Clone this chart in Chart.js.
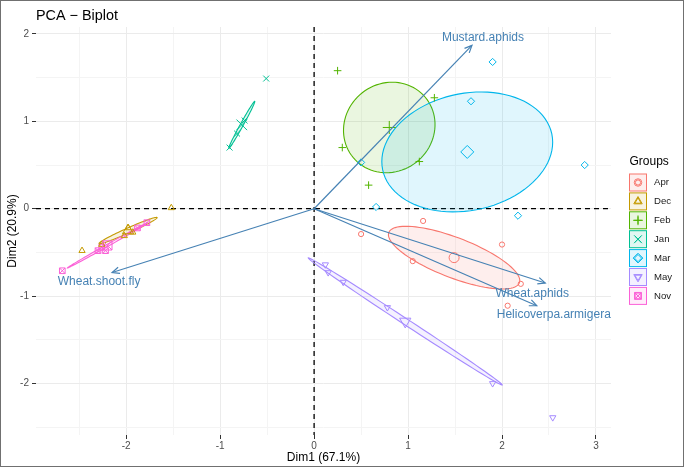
<!DOCTYPE html>
<html>
<head>
<meta charset="utf-8">
<script src="https://cdn.jsdelivr.net/npm/chart.js@4.4.1/dist/chart.umd.min.js"></script>
<style>
  html, body { margin: 0; padding: 0; background: #fff; }
  canvas { display: block; }
</style>
</head>
<body>
<canvas id="biplot" width="685" height="468"></canvas>
<script>
// groups and colours (ggplot hue palette)
const groups = ['Apr', 'Dec', 'Feb', 'Jan', 'Mar', 'May', 'Nov'];
const groupColors = ['#F8766D', '#C49A00', '#53B400', '#00C094', '#00B6EB', '#A58AFF', '#FB61D7'];

// individuals
const aprX = [0.50, 1.16, 2.00, 1.05, 2.20, 2.06];
const aprY = [-0.29, -0.14, -0.41, -0.60, -0.86, -1.11];
const decX = [-1.52, -2.47, -1.98, -2.02, -1.93, -2.26];
const decY = [0.01, -0.48, -0.22, -0.31, -0.27, -0.41];
const febX = [0.25, 1.28, 0.30, 0.58, 1.12];
const febY = [1.58, 1.27, 0.70, 0.27, 0.54];
const janX = [-0.51, -0.90, -0.82, -0.74];
const janY = [1.49, 0.70, 0.86, 1.01];
const marX = [1.90, 1.67, 2.88, 2.17, 0.66, 0.50];
const marY = [1.68, 1.23, 0.50, -0.08, 0.02, 0.53];
const mayX = [0.12, 0.15, 0.31, 0.78, 1.90, 2.54];
const mayY = [-0.64, -0.73, -0.84, -1.13, -2.00, -2.39];
const novX = [-2.68, -1.78, -2.26, -2.22, -2.30, -1.88];
const novY = [-0.71, -0.16, -0.44, -0.48, -0.48, -0.22];

// group means (big markers) and ellipse half-axes (conjugate vectors, data units)
const centerX = [1.49, -1.98, 0.80, -0.77, 1.63, 0.97, -2.20];
const centerY = [-0.56, -0.25, 0.93, 0.96, 0.65, -1.29, -0.42];
const ellipseU = [[0.695, -0.288], [0.309, 0.149], [0.383, 0.346], [0.138, 0.269], [0.900, 0.206], [1.032, -0.727], [0.426, 0.258]];
const ellipseV = [[-0.076, -0.214], [0.011, -0.026], [0.301, -0.386], [0.014, -0.008], [0.129, -0.655], [-0.018, -0.029], [0.006, -0.010]];

// variables (arrows)
const varNames = ['Mustard.aphids', 'Wheat.shoot.fly', 'Wheat.aphids', 'Helicoverpa.armigera'];
const varX = [1.68, -2.15, 2.46, 2.37];
const varY = [1.87, -0.73, -0.85, -1.11];

// axes
const xTicks = [-2.5, -2, -1.5, -1, -0.5, 0, 0.5, 1, 1.5, 2, 2.5, 3];
const yTicks = [-2.5, -2, -1.5, -1, -0.5, 0, 0.5, 1, 1.5, 2];
const xRange = [-2.96, 3.16];
const yRange = [-2.59, 2.08];

const FONT = '"Liberation Sans", Arial, Helvetica, sans-serif';
const arrowColor = '#4682B4';
const labelOffsets = [[11, -8], [-13, 9], [-13, 11], [17, 9]];

const groupXs = [aprX, decX, febX, janX, marX, mayX, novX];
const groupYs = [aprY, decY, febY, janY, marY, mayY, novY];
const shapes = [
    { style: 'circle', rot: 0, r: 2.6, big: 5 },
    { style: 'triangle', rot: 0, r: 3.6, big: 6.5 },
    { style: 'cross', rot: 0, r: 3.8, big: 6.5 },
    { style: 'crossRot', rot: 0, r: 4.2, big: 7.5 },
    { style: 'rectRot', rot: 0, r: 3.6, big: 6.5 },
    { style: 'triangle', rot: 180, r: 3.6, big: 6.5 },
    { style: 'rect', rot: 0, r: 4, big: 6.5 }
];

function alpha(hex, a) {
    const n = parseInt(hex.slice(1), 16);
    return `rgba(${(n >> 16) & 255}, ${(n >> 8) & 255}, ${n & 255}, ${a})`;
}

function pts(xs, ys) {
    return xs.map((x, i) => ({ x: x, y: ys[i] }));
}

function pointSet(data, style, rot, r, color) {
    return {
        data: data,
        showLine: false,
        pointStyle: style,
        rotation: rot,
        pointRadius: r,
        pointBorderWidth: 1,
        borderColor: color,
        backgroundColor: 'rgba(0,0,0,0)',
        pointBorderColor: color,
        pointBackgroundColor: 'rgba(0,0,0,0)'
    };
}

const datasets = [];
// arrows first so they are drawn on top
varNames.forEach((name, i) => {
    datasets.push({
        data: [{ x: 0, y: 0 }, { x: varX[i], y: varY[i] }],
        showLine: true,
        borderColor: arrowColor,
        borderWidth: 1.2,
        pointRadius: 0,
        fill: false
    });
});
// group means
groups.forEach((g, i) => {
    const s = shapes[i];
    const d = [{ x: centerX[i], y: centerY[i] }];
    datasets.push(pointSet(d, s.style, s.rot, s.big, groupColors[i]));
    if (g === 'Nov') datasets.push(pointSet(d, 'crossRot', 0, s.big, groupColors[i]));
});
// individuals
groups.forEach((g, i) => {
    const s = shapes[i];
    const d = pts(groupXs[i], groupYs[i]);
    datasets.push(pointSet(d, s.style, s.rot, s.r, groupColors[i]));
    if (g === 'Nov') datasets.push(pointSet(d, 'crossRot', 0, s.r, groupColors[i]));
});

const backdrop = {
    id: 'backdrop',
    beforeDatasetsDraw(chart) {
        const { ctx, chartArea, scales: { x, y } } = chart;
        ctx.save();
        // dashed reference lines through the origin
        ctx.setLineDash([5, 4]);
        ctx.strokeStyle = '#000';
        ctx.lineWidth = 1.3;
        const x0 = x.getPixelForValue(0), y0 = y.getPixelForValue(0);
        ctx.beginPath();
        ctx.moveTo(x0, chartArea.top);
        ctx.lineTo(x0, chartArea.bottom);
        ctx.moveTo(chartArea.left, y0);
        ctx.lineTo(chartArea.right, y0);
        ctx.stroke();
        ctx.setLineDash([]);
        // concentration ellipses
        groups.forEach((g, i) => {
            ctx.beginPath();
            for (let k = 0; k <= 90; k++) {
                const t = k / 90 * Math.PI * 2;
                const dx = centerX[i] + ellipseU[i][0] * Math.cos(t) + ellipseV[i][0] * Math.sin(t);
                const dy = centerY[i] + ellipseU[i][1] * Math.cos(t) + ellipseV[i][1] * Math.sin(t);
                const px = x.getPixelForValue(dx), py = y.getPixelForValue(dy);
                if (k === 0) ctx.moveTo(px, py); else ctx.lineTo(px, py);
            }
            ctx.closePath();
            ctx.fillStyle = alpha(groupColors[i], 0.12);
            ctx.fill();
            ctx.strokeStyle = groupColors[i];
            ctx.lineWidth = 1.1;
            ctx.stroke();
        });
        ctx.restore();
    }
};

const arrowHeads = {
    id: 'arrowHeads',
    afterDatasetsDraw(chart) {
        const ctx = chart.ctx;
        ctx.save();
        varNames.forEach((name, i) => {
            const meta = chart.getDatasetMeta(i);
            const p0 = meta.data[0], p1 = meta.data[1];
            const ang = Math.atan2(p1.y - p0.y, p1.x - p0.x);
            const len = 8, spread = 0.42;
            ctx.strokeStyle = arrowColor;
            ctx.lineWidth = 1.2;
            ctx.beginPath();
            ctx.moveTo(p1.x - len * Math.cos(ang - spread), p1.y - len * Math.sin(ang - spread));
            ctx.lineTo(p1.x, p1.y);
            ctx.lineTo(p1.x - len * Math.cos(ang + spread), p1.y - len * Math.sin(ang + spread));
            ctx.stroke();
            ctx.fillStyle = arrowColor;
            ctx.font = '12px ' + FONT;
            ctx.textAlign = 'center';
            ctx.textBaseline = 'middle';
            ctx.fillText(name, p1.x + labelOffsets[i][0], p1.y + labelOffsets[i][1]);
        });
        ctx.restore();
    }
};

const decorations = {
    id: 'decorations',
    afterDraw(chart) {
        const ctx = chart.ctx;
        const area = chart.chartArea;
        ctx.save();
        // title
        ctx.fillStyle = '#000';
        ctx.font = '14.4px ' + FONT;
        ctx.textAlign = 'left';
        ctx.textBaseline = 'middle';
        ctx.fillText('PCA \u2212 Biplot', area.left, 16);
        // legend
        const lx = 629.5, kw = 17, step = 18.9, firstY = 182.5;
        ctx.font = '12px ' + FONT;
        ctx.fillText('Groups', lx, 162);
        groups.forEach((g, i) => {
            const cy = firstY + i * step;
            const col = groupColors[i];
            ctx.fillStyle = alpha(col, 0.12);
            ctx.fillRect(lx, cy - kw / 2, kw, kw);
            ctx.strokeStyle = col;
            ctx.lineWidth = 1;
            ctx.strokeRect(lx, cy - kw / 2, kw, kw);
            const s = shapes[i];
            ctx.fillStyle = 'rgba(0,0,0,0)';
            [s.r, s.big * 0.75].forEach(r => {
                Chart.helpers.drawPoint(ctx, { pointStyle: s.style, rotation: s.rot, radius: r, borderWidth: 1 }, lx + kw / 2, cy);
                if (g === 'Nov') Chart.helpers.drawPoint(ctx, { pointStyle: 'crossRot', rotation: 0, radius: r, borderWidth: 1 }, lx + kw / 2, cy);
            });
            ctx.fillStyle = '#1a1a1a';
            ctx.font = '9.6px ' + FONT;
            ctx.fillText(g, 654, cy);
        });
        // frame
        ctx.strokeStyle = '#707070';
        ctx.lineWidth = 1;
        ctx.strokeRect(0.5, 0.5, 683, 466);
        ctx.restore();
    }
};

function isMajor(v) {
    return Math.abs(v - Math.round(v)) < 1e-9;
}

function axis(ticks, range, titleText, isX) {
    return {
        type: 'linear',
        min: range[0],
        max: range[1],
        afterBuildTicks: scale => { scale.ticks = ticks.map(v => ({ value: v })); },
        afterFit: scale => {
            if (isX) scale.height = 33; else scale.width = 36;
        },
        border: { display: false },
        grid: {
            color: c => (c.tick && isMajor(c.tick.value)) ? '#EBEBEB' : '#F4F4F4',
            lineWidth: 1,
            drawTicks: true,
            tickLength: 4,
            tickColor: c => (c.tick && isMajor(c.tick.value)) ? '#333333' : 'rgba(0,0,0,0)'
        },
        ticks: {
            autoSkip: false,
            maxRotation: 0,
            padding: isX ? 1 : 3,
            color: '#4D4D4D',
            font: { family: FONT, size: 10 },
            callback: v => isMajor(v) ? String(Math.round(v)) : ''
        },
        title: {
            display: true,
            text: titleText,
            color: '#000',
            font: { family: FONT, size: 12 },
            padding: isX ? { top: 0, bottom: 3 } : { top: 5, bottom: 0 }
        }
    };
}

new Chart(document.getElementById('biplot'), {
    type: 'scatter',
    data: { datasets: datasets },
    options: {
        responsive: false,
        animation: false,
        devicePixelRatio: 1,
        events: [],
        layout: { padding: { left: 0, top: 27, right: 74, bottom: 0 } },
        plugins: {
            legend: { display: false },
            title: { display: false },
            tooltip: { enabled: false }
        },
        scales: {
            x: axis(xTicks, xRange, 'Dim1 (67.1%)', true),
            y: axis(yTicks, yRange, 'Dim2 (20.9%)', false)
        }
    },
    plugins: [backdrop, arrowHeads, decorations]
});
</script>
</body>
</html>
